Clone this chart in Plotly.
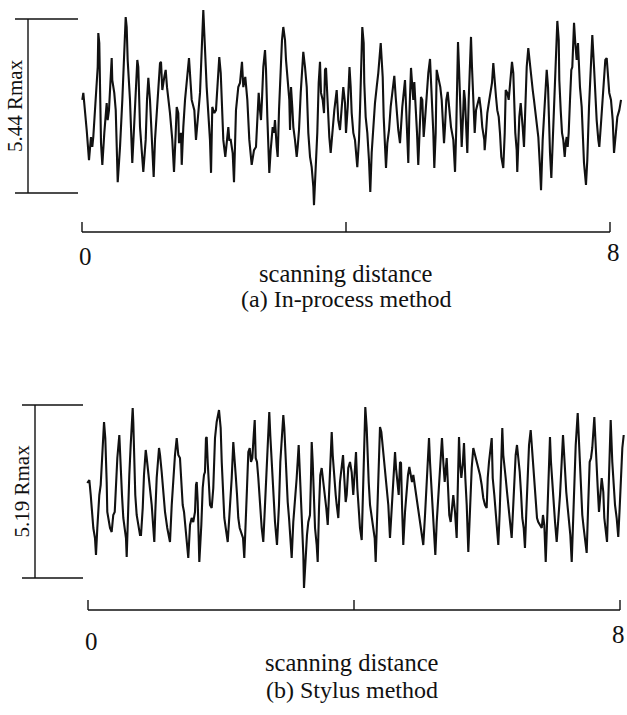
import plotly.graph_objects as go

W, H = 627, 715
def PX(x): return x / W
def PY(y): return 1 - y / H

# ---- data: surface profiles (scanning distance, height) ----
top_x = [0.005,0.020,0.071,0.106,0.136,0.156,0.171,0.197,0.238,0.247,
         0.262,0.288,0.308,0.338,0.374,0.389,0.409,0.450,0.459,0.489,
         0.511,0.541,0.576,0.611,0.641,0.662,0.677,0.692,0.727,0.762,
         0.792,0.818,0.838,0.853,0.879,0.929,0.965,0.985,1.005,1.030,
         1.065,1.086,1.106,1.147,1.182,1.197,1.217,1.247,1.268,1.288,
         1.333,1.368,1.394,1.420,1.435,1.459,1.470,1.500,1.511,1.535,
         1.561,1.621,1.641,1.662,1.702,1.727,1.762,1.788,1.814,1.838,
         1.853,1.889,1.939,1.955,1.974,2.005,
         2.030,2.050,2.080,2.102,2.117,2.141,2.171,2.202,2.217,2.232,
         2.253,2.283,2.303,2.333,2.368,2.394,2.424,2.444,2.474,2.505,
         2.535,2.571,2.606,2.636,2.656,2.677,2.697,2.712,2.727,2.747,
         2.773,2.788,2.808,2.823,2.838,2.859,2.889,2.909,2.924,2.950,
         2.965,2.985,3.011,3.030,3.050,3.076,3.091,3.117,3.141,3.152,
         3.167,3.186,3.202,3.227,3.253,3.268,3.288,3.314,3.333,3.353,
         3.379,3.405,3.429,3.455,3.480,3.505,3.515,3.545,3.565,3.586,
         3.606,3.621,3.647,3.667,3.682,3.697,3.717,3.747,3.768,3.792,
         3.823,3.859,3.883,3.909,3.935,3.959,3.985,4.000,4.026,4.041,
         4.053,
         4.071,4.086,4.111,4.136,4.171,4.197,4.212,4.227,4.247,4.268,
         4.277,4.298,4.323,4.348,4.368,4.389,4.414,4.439,4.465,4.489,
         4.526,4.541,4.556,4.571,4.591,4.606,4.626,4.652,4.677,4.702,
         4.732,4.753,4.773,4.792,4.818,4.833,4.853,4.894,4.909,4.924,
         4.944,4.959,4.985,5.005,5.020,5.035,5.056,5.076,5.095,5.117,
         5.136,5.156,5.177,5.197,5.217,5.247,5.273,5.288,5.308,5.323,
         5.338,5.359,5.374,5.409,5.429,5.450,5.470,5.485,5.500,5.520,
         5.541,5.561,5.591,5.626,5.652,5.671,5.686,5.697,5.712,5.732,
         5.753,5.773,5.788,5.803,5.818,5.838,5.859,5.879,5.894,5.909,
         5.929,5.950,5.970,5.995,6.020,6.045,6.065,6.095,
         6.101,6.121,6.141,6.171,6.192,6.212,6.232,6.253,6.273,6.292,
         6.314,6.333,6.353,6.383,6.405,6.420,6.444,6.465,6.485,6.515,
         6.535,6.550,6.565,6.586,6.595,6.611,6.626,6.647,6.662,6.677,
         6.697,6.717,6.738,6.762,6.788,6.814,6.829,6.848,6.868,6.889,
         6.914,6.939,6.955,6.980,7.000,7.020,7.041,7.061,7.076,7.091,
         7.111,7.132,7.152,7.171,7.186,7.202,7.223,7.232,7.253,7.273,
         7.292,7.314,7.329,7.344,7.359,7.374,7.394,7.414,7.429,7.444,
         7.455,7.474,7.495,7.515,7.530,7.545,7.571,7.586,7.606,7.636,
         7.656,7.682,7.708,7.732,7.758,7.777,7.798,7.823,7.838,7.864,
         7.889,7.909,7.929,7.950,7.970,7.989,8.015,8.041,8.061,8.091,
         8.111,8.141,8.167]
top_h = [2.91,3.13,1.97,1.03,1.75,1.44,1.75,2.59,3.94,5.00,
         4.69,1.56,0.88,1.88,2.81,2.28,2.59,4.22,3.53,3.13,
         2.59,0.34,1.44,2.91,4.16,5.50,5.19,4.16,2.91,0.94,
         2.19,3.13,4.16,3.94,2.06,0.66,1.66,2.91,3.60,2.91,
         1.25,0.50,1.66,2.91,4.06,4.10,3.22,3.63,3.85,3.31,
         2.50,1.66,0.66,1.88,2.69,2.50,1.56,1.88,0.88,2.06,
         2.91,4.22,3.63,2.91,2.59,1.66,2.50,3.13,4.47,5.72,
         5.00,3.31,1.66,0.63,2.69,2.50,
         2.59,3.44,4.25,3.75,2.91,1.66,1.13,1.88,2.06,1.66,
         1.66,1.25,0.34,2.59,3.31,3.44,4.10,3.31,3.63,2.91,
         1.66,0.88,1.34,1.44,2.38,3.13,2.59,2.28,2.91,3.94,
         4.47,3.85,2.38,1.44,0.63,1.34,2.06,1.88,2.28,1.44,
         1.13,2.59,3.94,4.78,5.19,4.78,4.16,3.44,2.91,1.97,
         3.31,2.69,2.06,1.66,1.13,1.44,1.97,3.13,3.75,4.41,
         3.94,3.31,1.88,1.13,0.81,0.19,-0.38,1.03,1.88,3.44,
         4.10,3.13,2.91,2.50,3.85,3.91,2.91,1.75,1.25,1.97,
         2.59,3.22,2.28,1.97,2.59,3.31,2.81,1.88,2.69,3.85,
         3.94,
         3.31,2.50,1.88,1.66,0.81,1.66,2.59,3.94,5.19,4.69,
         3.44,2.38,1.88,1.03,0.03,1.25,2.19,2.81,3.31,3.75,
         4.69,4.06,3.63,2.38,1.66,0.78,1.56,1.97,2.69,3.22,
         3.66,3.00,2.28,1.97,1.56,2.06,2.69,3.53,2.59,1.88,
         0.94,2.38,3.91,3.31,2.91,3.47,2.81,1.88,0.88,2.06,
         3.00,2.91,1.75,2.28,3.00,3.75,4.19,3.53,2.81,1.88,
         0.78,1.88,3.85,3.44,3.31,2.91,2.06,1.56,2.06,2.91,
         3.16,2.69,2.06,1.66,0.66,2.06,3.94,4.72,3.94,2.38,
         1.44,2.38,3.22,2.91,1.88,1.25,2.91,4.16,4.88,3.94,
         2.81,1.88,2.59,2.81,3.00,2.59,2.06,1.66,
         1.34,1.88,2.50,2.91,3.13,3.44,4.06,3.63,3.00,2.59,
         2.38,1.88,1.13,0.78,1.88,3.22,3.13,2.91,3.31,4.10,
         3.75,2.81,1.88,1.34,0.66,1.56,2.38,2.81,2.50,2.06,
         1.44,2.91,3.94,4.53,3.94,3.53,3.22,2.91,2.50,2.19,
         1.75,0.81,0.09,1.66,2.38,3.31,3.85,3.31,2.06,1.25,
         0.47,1.66,2.59,3.31,4.16,5.38,4.78,3.53,2.59,1.88,
         1.66,1.13,1.56,1.75,1.44,1.88,2.91,3.85,3.94,5.00,
         5.32,4.69,4.16,4.69,3.94,3.31,2.69,1.66,0.94,0.25,
         1.03,2.69,4.16,4.94,3.94,2.91,2.28,1.66,1.44,2.19,
         2.91,3.53,4.16,4.22,3.63,3.13,2.91,2.28,1.25,2.06,
         2.38,2.59,2.91]

bot_x = [-0.011,0.020,0.041,0.060,0.080,0.105,0.120,0.140,0.155,0.170,
         0.191,0.211,0.230,0.241,0.260,0.271,0.281,0.290,0.311,0.331,
         0.356,0.380,0.402,0.421,0.441,0.471,0.481,0.492,0.511,0.531,
         0.552,0.571,0.582,0.602,0.621,0.642,0.672,0.681,0.692,0.711,
         0.732,0.756,0.782,0.797,0.823,0.842,0.868,0.883,0.907,0.932,
         0.958,0.982,0.997,1.012,1.033,1.068,1.083,1.108,1.132,1.158,
         1.192,1.233,1.259,1.283,1.308,1.334,1.358,1.383,1.403,1.424,
         1.444,1.463,1.484,1.508,1.534,1.559,1.583,1.609,1.624,1.635,
         1.650,1.665,1.674,1.704,1.725,1.744,1.759,1.774,1.785,1.800,
         1.815,1.835,1.860,1.884,1.910,1.935,
         1.970,1.995,2.011,2.030,2.050,2.071,2.090,2.101,2.120,2.140,
         2.161,2.185,2.200,2.221,2.241,2.260,2.281,2.301,2.331,2.350,
         2.371,2.391,2.411,2.432,2.451,2.471,2.492,2.507,2.522,2.541,
         2.561,2.586,2.612,2.636,2.672,2.692,2.711,2.726,2.741,2.762,
         2.786,2.812,2.842,2.872,2.892,2.922,2.937,2.952,2.973,2.988,
         3.003,3.023,3.053,3.063,3.087,3.113,3.138,3.168,3.188,3.203,
         3.223,3.238,3.248,3.274,3.293,3.313,3.338,3.353,3.364,3.379,
         3.394,3.414,3.439,3.454,3.474,3.493,3.514,3.534,3.553,3.583,
         3.605,3.624,3.644,3.665,3.680,3.699,3.725,3.740,3.764,3.789,
         3.815,3.835,3.854,3.875,3.890,3.914,3.940,3.965,3.989,
         4.030,4.050,4.065,4.090,4.116,4.131,4.150,4.170,4.191,4.206,
         4.221,4.241,4.266,4.290,4.311,4.326,4.341,4.361,4.380,4.391,
         4.411,4.432,4.451,4.471,4.492,4.516,4.541,4.567,4.591,4.617,
         4.632,4.651,4.672,4.692,4.707,4.722,4.741,4.767,4.792,4.812,
         4.832,4.853,4.872,4.892,4.913,4.932,4.952,4.973,4.992,5.042,
         5.068,5.093,5.117,5.128,5.143,5.162,5.183,5.203,5.223,5.244,
         5.268,5.293,5.323,5.343,5.364,5.394,5.414,5.433,5.454,5.474,
         5.493,5.519,5.544,5.564,5.579,5.594,5.614,5.635,5.654,5.674,
         5.695,5.719,5.744,5.770,5.794,5.820,5.845,5.869,5.895,5.920,
         5.944,5.970,5.995,
         6.011,6.030,6.071,6.086,6.110,6.131,6.146,6.170,6.191,6.211,
         6.230,6.245,6.260,6.281,6.301,6.320,6.346,6.371,6.395,6.410,
         6.431,6.451,6.471,6.492,6.511,6.531,6.552,6.571,6.591,6.612,
         6.632,6.657,6.672,6.692,6.711,6.732,6.752,6.771,6.802,6.823,
         6.842,6.862,6.883,6.902,6.922,6.947,6.962,6.982,7.003,7.023,
         7.048,7.072,7.098,7.123,7.143,7.158,7.173,7.192,7.214,7.233,
         7.253,7.274,7.293,7.313,7.334,7.364,7.383,7.398,7.414,7.433,
         7.454,7.474,7.499,7.523,7.544,7.564,7.583,7.614,7.629,7.644,
         7.665,7.684,7.699,7.725,7.749,7.764,7.805,7.824,7.845,7.860,
         7.884,7.905,7.925,7.950,7.974,7.995,8.015,8.035,8.056]
bot_h = [2.85,2.94,2.49,1.89,1.50,1.20,0.69,1.50,2.19,2.49,
         2.79,3.48,4.50,4.68,4.20,3.69,2.88,1.98,1.68,1.50,
         1.38,1.89,1.98,3.00,3.60,4.29,3.78,3.18,2.49,1.80,
         1.50,1.20,0.63,2.19,3.09,3.99,5.10,4.68,3.48,2.49,
         1.89,1.59,1.29,1.29,2.10,3.09,3.84,3.60,3.18,2.79,
         2.19,1.50,1.08,1.98,3.00,3.90,3.69,3.18,2.58,1.98,
         1.50,1.08,2.19,3.09,3.69,4.20,3.69,3.60,3.00,2.19,
         1.98,1.50,1.08,0.60,1.59,1.80,1.68,1.98,2.79,2.88,
         2.28,1.29,0.48,1.59,2.70,3.09,3.18,4.20,4.23,3.48,
         2.88,2.19,2.10,2.70,4.20,4.68,
         5.04,4.50,3.48,2.49,1.80,1.50,1.20,1.08,1.68,2.19,
         3.00,4.08,3.48,3.09,2.49,1.80,1.50,1.38,1.20,0.60,
         1.50,2.70,3.78,3.90,3.48,3.60,4.29,4.74,3.60,3.48,
         3.00,2.19,1.50,1.08,2.70,3.69,4.50,4.98,4.29,3.48,
         2.49,1.68,0.99,2.19,3.48,4.59,4.89,4.50,3.48,2.88,
         2.28,1.80,1.08,0.60,1.68,2.28,3.00,3.99,3.00,1.98,
         1.50,0.69,-0.30,0.69,1.29,1.68,1.89,3.00,4.08,3.48,
         2.49,1.50,0.99,0.48,2.10,3.09,3.30,3.00,2.70,2.10,
         1.59,2.49,3.69,4.38,3.69,3.09,2.49,2.19,1.80,2.88,
         3.48,3.69,3.00,2.28,2.49,3.30,3.48,3.18,2.49,
         3.78,2.70,2.19,1.50,1.14,2.49,3.99,5.13,4.50,3.48,
         2.88,2.19,1.80,1.50,1.20,0.48,1.50,2.49,3.69,4.53,
         4.38,3.90,3.48,3.00,2.49,2.19,1.20,2.10,2.88,3.78,
         3.30,2.88,2.49,3.48,3.45,2.19,0.99,1.98,2.70,3.09,
         3.33,3.09,2.88,3.09,2.79,2.49,2.19,1.89,1.68,0.99,
         1.89,2.79,3.69,4.20,3.48,2.88,2.28,1.68,0.69,1.68,
         2.49,3.09,4.20,3.48,2.88,3.60,2.70,1.89,1.68,2.19,
         2.49,1.98,1.20,3.00,4.23,3.48,3.00,3.39,4.05,3.00,
         2.19,0.78,2.19,3.30,3.90,3.69,3.48,3.30,3.09,2.79,
         2.40,2.19,2.10,
         3.00,3.48,4.20,3.00,2.49,1.98,1.50,0.99,1.98,3.09,
         4.50,3.69,3.30,3.00,2.58,2.19,1.80,1.20,2.19,3.00,
         3.69,3.99,3.60,3.18,2.58,1.80,1.50,0.90,1.98,3.00,
         3.99,4.44,3.99,3.48,2.88,2.28,1.80,1.68,1.59,1.50,
         1.89,1.59,0.48,1.68,3.00,4.23,3.48,2.79,2.19,1.68,
         1.08,1.68,2.49,3.48,4.29,3.78,3.18,2.58,2.10,1.68,
         1.29,0.48,1.68,2.88,3.99,4.95,4.08,3.30,2.49,1.89,
         1.50,1.20,0.75,2.28,3.48,3.60,3.90,4.83,4.20,3.18,
         2.70,1.98,2.49,3.00,2.58,1.80,1.08,2.28,3.48,4.74,
         3.48,2.70,2.19,1.80,1.23,2.10,3.18,3.90,4.29]

assert len(top_x) == len(top_h), (len(top_x), len(top_h))
assert len(bot_x) == len(bot_h), (len(bot_x), len(bot_h))

rmax_a = 5.44
rmax_b = 5.19
x_ticks = [0, 4, 8]
x_ticklabels = ["0", "", "8"]
captions = ["(a) In-process method", "(b) Stylus method"]
axis_title = "scanning distance"

INK = "#111111"
FONT = "Liberation Serif"

fig = go.Figure()
fig.add_trace(go.Scatter(x=top_x, y=top_h, mode="lines", xaxis="x", yaxis="y",
                         line=dict(color=INK, width=2.1), hoverinfo="skip"))
fig.add_trace(go.Scatter(x=bot_x, y=bot_h, mode="lines", xaxis="x2", yaxis="y2",
                         line=dict(color=INK, width=2.1), hoverinfo="skip"))

# panel geometry (pixel positions of the frame)
panels = [
    dict(x0=82, x8=610, ay=232, top=0, bot=215, zero=193, full=19, rmax=rmax_a,
         bx=28, bl=15, br=78, lab_x=15, lab0=(85, 256), lab8=(613, 252),
         title_y=273, cap_y=299, cx=346),
    dict(x0=88, x8=620, ay=610, top=395, bot=600, zero=578, full=405, rmax=rmax_b,
         bx=35, bl=22, br=83, lab_x=22, lab0=(91, 641), lab8=(618, 634),
         title_y=662, cap_y=690, cx=352),
]

layout_axes = {}
shapes = []
annotations = []
for i, p in enumerate(panels):
    sfx = "" if i == 0 else str(i + 1)
    dom_l, dom_r = 80, 627
    ppu = (p["x8"] - p["x0"]) / 8.0
    xr = [(dom_l - p["x0"]) / ppu, (dom_r - p["x0"]) / ppu]
    ppy = (p["zero"] - p["full"]) / p["rmax"]
    yr = [(p["zero"] - p["bot"]) / ppy, (p["zero"] - p["top"]) / ppy]
    layout_axes["xaxis" + sfx] = dict(domain=[PX(dom_l), PX(dom_r)], range=xr,
                                      visible=False, anchor="y" + sfx, fixedrange=True)
    layout_axes["yaxis" + sfx] = dict(domain=[PY(p["bot"]), PY(p["top"])], range=yr,
                                      visible=False, anchor="x" + sfx, fixedrange=True)
    xref = "x" + sfx
    yref = "y" + sfx
    line = dict(color=INK, width=1.4)
    # scanning distance axis
    shapes.append(dict(type="line", xref=xref, yref="paper", x0=x_ticks[0], x1=x_ticks[-1],
                       y0=PY(p["ay"]), y1=PY(p["ay"]), line=line))
    for t in x_ticks:
        shapes.append(dict(type="line", xref=xref, yref="paper", x0=t, x1=t,
                           y0=PY(p["ay"]), y1=PY(p["ay"] - 10), line=line))
    # Rmax bracket
    shapes.append(dict(type="line", xref="paper", yref=yref, x0=PX(p["bx"]), x1=PX(p["bx"]),
                       y0=0, y1=p["rmax"], line=line))
    for yv in (0, p["rmax"]):
        shapes.append(dict(type="line", xref="paper", yref=yref, x0=PX(p["bl"]), x1=PX(p["br"]),
                           y0=yv, y1=yv, line=line))
    annotations.append(dict(text=f"{p['rmax']:.2f} Rmax", textangle=-90, showarrow=False,
                            xref="paper", yref=yref, x=PX(p["lab_x"]), y=p["rmax"] / 2,
                            xanchor="center", yanchor="middle",
                            font=dict(family=FONT, size=21, color=INK)))
    # tick labels
    for (lx, ly), txt in ((p["lab0"], x_ticklabels[0]), (p["lab8"], x_ticklabels[-1])):
        annotations.append(dict(text=txt, showarrow=False, xref="paper", yref="paper",
                                x=PX(lx), y=PY(ly), xanchor="center", yanchor="middle",
                                font=dict(family=FONT, size=25, color=INK)))
    annotations.append(dict(text=axis_title, showarrow=False, xref="paper", yref="paper",
                            x=PX(p["cx"]), y=PY(p["title_y"]), xanchor="center", yanchor="middle",
                            font=dict(family=FONT, size=24.5, color=INK)))
    annotations.append(dict(text=captions[i], showarrow=False, xref="paper", yref="paper",
                            x=PX(p["cx"]), y=PY(p["cap_y"]), xanchor="center", yanchor="middle",
                            font=dict(family=FONT, size=24, color=INK)))

fig.update_layout(width=W, height=H, margin=dict(l=0, r=0, t=0, b=0),
                  paper_bgcolor="white", plot_bgcolor="white", showlegend=False,
                  shapes=shapes, annotations=annotations, **layout_axes)

fig.write_html("out.html", config={"displayModeBar": False},
               post_script="document.body.style.margin='0px';document.body.style.overflow='hidden';")
